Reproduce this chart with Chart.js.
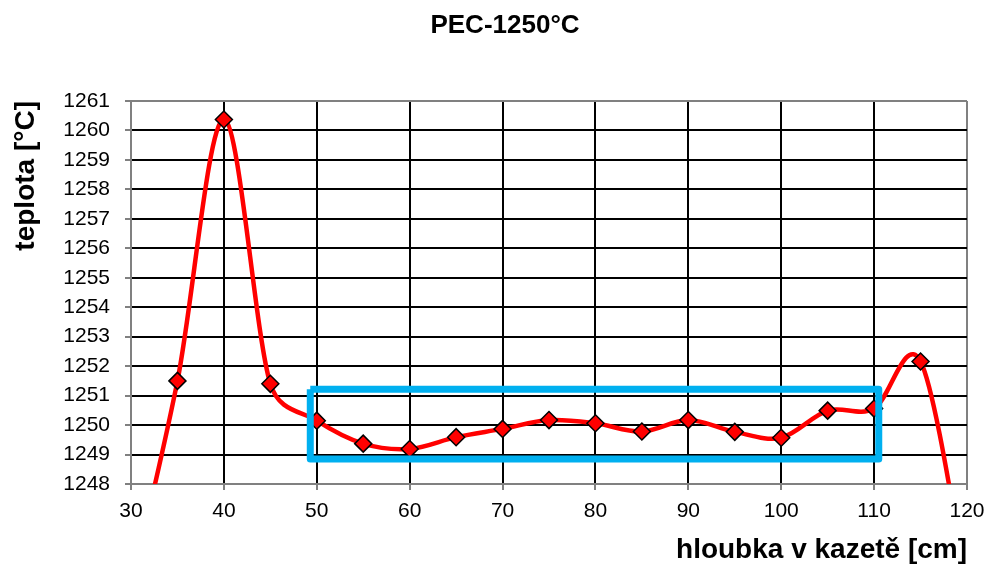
<!DOCTYPE html>
<html>
<head>
<meta charset="utf-8">
<script src="https://cdn.jsdelivr.net/npm/chart.js@4/dist/chart.umd.min.js"></script>
<style>
  html, body { margin: 0; padding: 0; background: #fff; }
  #wrap { width: 985px; height: 567px; }
</style>
</head>
<body>
<div id="wrap"><canvas id="c" width="985" height="567"></canvas></div>
<script>
// depth in the cassette [cm] and measured temperature [°C]
var depth = [30, 35, 40, 45, 50, 55, 60, 65, 70, 75, 80, 85, 90, 95, 100, 105, 110, 115, 120];
var temps = [1244.5, 1251.5, 1260.37, 1251.4, 1250.15, 1249.37, 1249.19, 1249.59, 1249.87, 1250.17,
             1250.06, 1249.78, 1250.17, 1249.77, 1249.57, 1250.49, 1250.56, 1252.16, 1244.5];
// markers hidden for the end points that fall below the axis
var showMarker = [false, true, true, true, true, true, true, true, true, true,
                  true, true, true, true, true, true, true, true, false];

// highlighted band (blue frame)
var bandX = [49.3, 110.5, 110.5, 49.3, 49.3];
var bandY = [1251.22, 1251.22, 1248.85, 1248.85, 1251.22];

var xMin = 30, xMax = 120, xStep = 10;
var yMin = 1248, yMax = 1261, yStep = 1;

var chartTitle = "PEC-1250°C";

var ctx = document.getElementById("c").getContext("2d");

var lineData = depth.map(function(d, i) { return {x: d, y: temps[i]}; });
var bandData = bandX.map(function(d, i) { return {x: d, y: bandY[i]}; });

function dist(a, b) { return Math.sqrt((a.x - b.x) * (a.x - b.x) + (a.y - b.y) * (a.y - b.y)); }

// excel-like smoothing: catmull-rom control points (1/6 of neighbour chord),
// each side capped to half of its own segment so short segments don't kink
var excelSmooth = {
  id: "excelSmooth",
  beforeDatasetDraw: function(chart, args) {
    if (args.index !== 1) return;
    var pts = args.meta.data;
    args.meta.dataset.updateControlPoints(chart.chartArea, "x");
    for (var i = 0; i < pts.length; i++) {
      var p = pts[i], prev = pts[i - 1] || p, next = pts[i + 1] || p;
      var dx = (next.x - prev.x) / 6, dy = (next.y - prev.y) / 6;
      var len = Math.sqrt(dx * dx + dy * dy) || 1;
      var kIn = Math.min(1, 0.5 * dist(prev, p) / len);
      var kOut = Math.min(1, 0.5 * dist(p, next) / len);
      if (prev === p) kIn = 1;
      if (next === p) kOut = 1;
      p.cp1x = p.x - dx * kIn; p.cp1y = p.y - dy * kIn;
      p.cp2x = p.x + dx * kOut; p.cp2y = p.y + dy * kOut;
    }
  }
};

// chart title, placed like in the original sheet (a bit right of centre)
var titleText = {
  id: "titleText",
  afterDraw: function(chart) {
    var c = chart.ctx;
    c.save();
    c.font = "bold 26px 'Liberation Sans'";
    c.fillStyle = "#000";
    c.textAlign = "center";
    c.textBaseline = "middle";
    c.fillText(chartTitle, 505, 26);
    c.restore();
  }
};

new Chart(ctx, {
  type: "scatter",
  data: {
    datasets: [
      {
        label: "band",
        data: bandData,
        showLine: true,
        borderColor: "#00B0F0",
        borderWidth: 7,
        borderJoinStyle: "round",
        tension: 0,
        pointRadius: 0,
        pointHoverRadius: 0,
        fill: false
      },
      {
        label: chartTitle,
        data: lineData,
        showLine: true,
        borderColor: "#FF0000",
        borderWidth: 4.5,
        tension: 0.4,
        fill: false,
        pointStyle: "rectRot",
        pointRadius: showMarker.map(function(s) { return s ? 8.5 : 0; }),
        pointHoverRadius: 0,
        pointBackgroundColor: "#FF0000",
        pointBorderColor: "#000000",
        pointBorderWidth: 1.5
      }
    ]
  },
  plugins: [excelSmooth, titleText],
  options: {
    responsive: false,
    animation: false,
    capBezierPoints: false,
    layout: { padding: { left: 0, right: 18, top: 101, bottom: 0 } },
    plugins: {
      legend: { display: false },
      tooltip: { enabled: false },
      title: { display: false }
    },
    scales: {
      x: {
        type: "linear",
        min: xMin,
        max: xMax,
        afterFit: function(scale) { scale.height = 83; scale.paddingRight = 0; },
        ticks: {
          stepSize: xStep,
          color: "#000",
          padding: 9,
          font: { family: "Liberation Sans", size: 21 },
          callback: function(v) { return String(v); }
        },
        grid: {
          color: function(c) { return c.tick && c.tick.value === xMax ? "#808080" : "#000"; },
          lineWidth: 2,
          tickLength: 6,
          tickColor: "#808080"
        },
        border: { color: "#808080", width: 2 },
        title: {
          display: true,
          text: "hloubka v kazetě [cm]",
          align: "end",
          color: "#000",
          font: { family: "Liberation Sans", size: 28, weight: "bold" },
          padding: { top: 0, bottom: 0 }
        }
      },
      y: {
        type: "linear",
        min: yMin,
        max: yMax,
        afterFit: function(scale) { scale.width = 131; },
        ticks: {
          stepSize: yStep,
          color: "#000",
          padding: 15,
          font: { family: "Liberation Sans", size: 21 },
          callback: function(v) { return String(v); }
        },
        grid: {
          color: function(c) { return c.tick && c.tick.value === yMax ? "#808080" : "#000"; },
          lineWidth: 2,
          tickLength: 6,
          tickColor: "#808080"
        },
        border: { color: "#808080", width: 2 },
        title: {
          display: true,
          text: "teplota [°C]",
          align: "end",
          color: "#000",
          font: { family: "Liberation Sans", size: 28, weight: "bold" },
          padding: { top: 9, bottom: 0 }
        }
      }
    }
  }
});
</script>
</body>
</html>
